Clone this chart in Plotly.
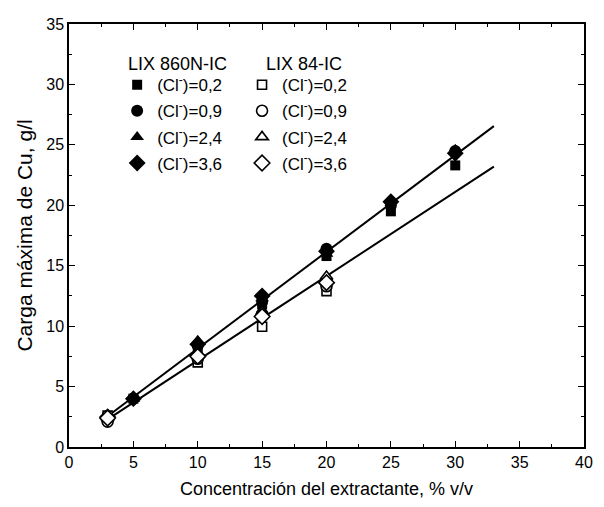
import numpy as np
import plotly.graph_objects as go

# Extractant concentration, % v/v
conc_860 = [3, 5, 10, 15, 20, 25, 30]
conc_84 = [3, 10, 15, 20]

# Maximum Cu loading (g/l), LIX 860N-IC, by chloride concentration
lix860_cl02 = [2.5, 4.0, 8.0, 11.8, 15.8, 19.5, 23.3]
lix860_cl09 = [2.5, 4.0, 8.4, 12.0, 16.4, 20.0, 24.5]
lix860_cl24 = [2.5, 4.0, 8.8, 12.3, 16.0, 20.4, 24.6]
lix860_cl36 = [2.5, 4.0, 8.5, 12.5, 16.2, 20.3, 24.3]

# Maximum Cu loading (g/l), LIX 84-IC, by chloride concentration
lix84_cl02 = [2.6, 7.0, 9.95, 12.9]
lix84_cl09 = [2.1, 7.3, 11.0, 13.3]
lix84_cl24 = [2.4, 7.6, 11.2, 14.1]
lix84_cl36 = [2.4, 7.5, 10.8, 13.6]

# Linear fits: slope, intercept, x-range
fit_860 = [0.800, 0.15]
fit_84 = [0.697, 0.20]
fit_range = [3, 33]

labels = ["(Cl<sup>-</sup>)=0,2", "(Cl<sup>-</sup>)=0,9",
          "(Cl<sup>-</sup>)=2,4", "(Cl<sup>-</sup>)=3,6"]
symbols = ["square", "circle", "triangle-up", "diamond"]
sizes = [10, 12, 12, 13]

FONT = "Liberation Sans, Arial, sans-serif"

fig = go.Figure()

xf = np.array(fit_range, dtype=float)
for slope, icpt in (fit_860, fit_84):
    fig.add_trace(go.Scatter(x=xf, y=slope * xf + icpt, mode="lines",
                             line=dict(color="black", width=2),
                             showlegend=False, hoverinfo="skip"))

for i, (ys, lab, sym, sz) in enumerate(zip(
        [lix860_cl02, lix860_cl09, lix860_cl24, lix860_cl36],
        labels, symbols, sizes)):
    fig.add_trace(go.Scatter(x=conc_860, y=ys, mode="markers", name=lab,
                             legend="legend", legendgroup=f"a{i}",
                             marker=dict(symbol=sym, size=sz, color="black",
                                         line=dict(width=0))))

for i, (ys, lab, sym, sz) in enumerate(zip(
        [lix84_cl02, lix84_cl09, lix84_cl24, lix84_cl36],
        labels, symbols, sizes)):
    fig.add_trace(go.Scatter(x=conc_84, y=ys, mode="markers", name=lab,
                             legend="legend2", legendgroup=f"b{i}",
                             marker=dict(symbol=sym, size=sz - 1, color="white",
                                         line=dict(width=1.6, color="black"))))

axis_common = dict(
    showline=True, linecolor="black", linewidth=1.5, mirror="allticks",
    ticks="inside", ticklen=6, tickwidth=1.3, tickcolor="black",
    showgrid=False, zeroline=False,
    tickfont=dict(family=FONT, size=16, color="black"),
)

fig.update_xaxes(range=[0, 40], dtick=5,
                 minor=dict(dtick=2.5, ticks="inside", ticklen=3,
                            tickcolor="black", tickwidth=1.2),
                 title_text="Concentración del extractante, % v/v",
                 title_font=dict(family=FONT, size=18, color="black"),
                 title_standoff=12, **axis_common)
fig.update_yaxes(range=[0, 35], dtick=5,
                 minor=dict(dtick=2.5, ticks="inside", ticklen=3,
                            tickcolor="black", tickwidth=1.2),
                 title_text="Carga máxima de Cu, g/l",
                 title_font=dict(family=FONT, size=21, color="black"),
                 title_standoff=8, **axis_common)

legend_common = dict(font=dict(family=FONT, size=17, color="black"),
                     bgcolor="rgba(0,0,0,0)", borderwidth=0,
                     xanchor="left", yanchor="top", itemclick=False,
                     traceorder="grouped", tracegroupgap=1)

fig.update_layout(
    width=604, height=507,
    margin=dict(l=69, r=11, t=24, b=60),
    paper_bgcolor="white", plot_bgcolor="white",
    legend=dict(x=0.0935, y=0.898, **legend_common),
    legend2=dict(x=0.336, y=0.898, **legend_common),
    annotations=[
        dict(text="LIX 860N-IC", x=0.111, y=0.905, xref="paper", yref="paper",
             xanchor="left", yanchor="middle", showarrow=False,
             font=dict(family=FONT, size=18, color="black")),
        dict(text="LIX 84-IC", x=0.379, y=0.905, xref="paper", yref="paper",
             xanchor="left", yanchor="middle", showarrow=False,
             font=dict(family=FONT, size=18, color="black")),
    ],
)

fig.write_html("out.html")
